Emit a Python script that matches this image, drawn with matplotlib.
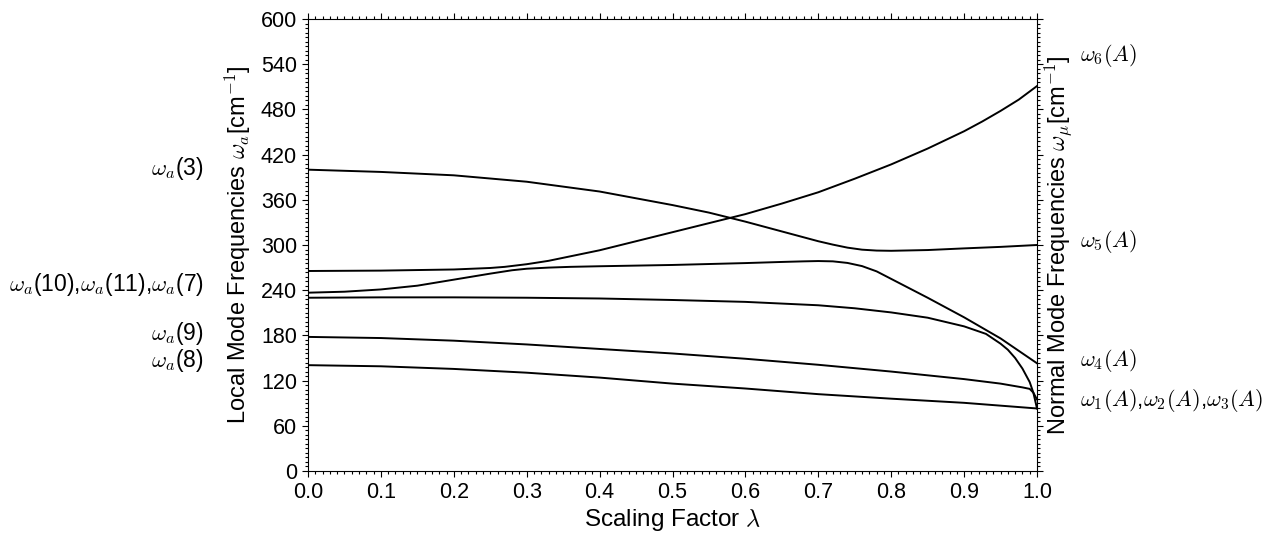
import numpy as np
import matplotlib
matplotlib.use("Agg")
import matplotlib.pyplot as plt
from matplotlib.ticker import MultipleLocator, FormatStrFormatter

plt.rcParams['font.family'] = ['Liberation Sans', 'DejaVu Sans']
plt.rcParams['mathtext.fontset'] = 'cm'
plt.rcParams['font.size'] = 15

# Mode frequencies (cm^-1) versus scaling factor lambda
lam_a = [0.0, 0.1, 0.2, 0.3, 0.4, 0.5, 0.55, 0.6, 0.65, 0.7, 0.72, 0.74, 0.76, 0.78,
         0.8, 0.85, 0.9, 0.95, 1.0]
freq_a = [400, 397, 392.5, 384, 371, 353, 343, 331, 318, 305, 300.5, 296.5, 293.8, 292.6,
          292.3, 293.3, 295.5, 297.5, 300]

lam_b = [0.0, 0.1, 0.2, 0.25, 0.27, 0.3, 0.33, 0.36, 0.4, 0.45, 0.5, 0.55, 0.6, 0.65,
         0.7, 0.75, 0.8, 0.85, 0.9, 0.925, 0.95, 0.975, 1.0]
freq_b = [265.5, 266, 267.5, 269.5, 271, 274.5, 279, 285, 293, 305, 317, 329, 341, 355,
          370, 388, 407, 428, 451, 464, 478, 493, 511]

lam_c = [0.0, 0.05, 0.1, 0.15, 0.2, 0.25, 0.28, 0.3, 0.33, 0.36, 0.4, 0.5, 0.6, 0.65,
         0.68, 0.7, 0.72, 0.74, 0.76, 0.78, 0.8, 0.82, 0.85, 0.9, 0.95, 1.0]
freq_c = [236.7, 238, 241, 246, 254, 262, 266.5, 268.5, 270, 271, 271.8, 273.5, 276, 277.5,
          278.3, 278.7, 278.3, 276.2, 272, 265, 255, 245, 230, 204, 176, 143]

lam_d = [0.0, 0.1, 0.2, 0.3, 0.4, 0.5, 0.6, 0.7, 0.75, 0.8, 0.85, 0.9, 0.93, 0.95, 0.96,
         0.97, 0.98, 0.99, 0.995, 1.0]
freq_d = [230, 230.5, 230.5, 230, 229, 227, 224.5, 220, 216, 210.5, 203.5, 192, 182, 169,
          161, 150, 136, 118, 104, 83]

lam_e = [0.0, 0.1, 0.2, 0.3, 0.4, 0.5, 0.6, 0.7, 0.8, 0.9, 0.95, 0.98, 0.99, 0.995, 1.0]
freq_e = [178, 176.5, 173, 168, 162, 156, 149, 141, 132, 122, 116, 111, 109, 104, 95]

lam_f = [0.0, 0.1, 0.2, 0.3, 0.4, 0.5, 0.6, 0.7, 0.8, 0.9, 1.0]
freq_f = [140.5, 139, 135.5, 130.5, 124, 116, 109.5, 102, 96, 90.5, 83]

curves = [(lam_a, freq_a), (lam_b, freq_b), (lam_c, freq_c),
          (lam_d, freq_d), (lam_e, freq_e), (lam_f, freq_f)]

# Mode annotations: (text, frequency position)
local_labels = [(r'$\omega_a$(3)', 401),
                (r'$\omega_a$(10),$\omega_a$(11),$\omega_a$(7)', 247),
                (r'$\omega_a$(9)', 183),
                (r'$\omega_a$(8)', 147)]
normal_labels = [(r'$\omega_6(A)$', 552),
                 (r'$\omega_5(A)$', 304),
                 (r'$\omega_4(A)$', 147),
                 (r'$\omega_1(A)$,$\omega_2(A)$,$\omega_3(A)$', 94)]

x_ticks = np.round(np.arange(0, 1.01, 0.1), 1)
y_ticks = np.arange(0, 601, 60)

fig = plt.figure(figsize=(12.76, 5.40), dpi=100)
ax = fig.add_axes([308 / 1276, 69 / 540, 729 / 1276, 452 / 540])

for lam, freq in curves:
    ax.plot(lam, freq, color='black', lw=1.4, solid_joinstyle='round')

ax.set_xlim(0, 1)
ax.set_ylim(0, 600)
ax.set_xticks(x_ticks)
ax.set_yticks(y_ticks)
ax.xaxis.set_major_formatter(FormatStrFormatter('%.1f'))
ax.xaxis.set_minor_locator(MultipleLocator(0.01))
ax.yaxis.set_minor_locator(MultipleLocator(6))
ax.tick_params(which='both', direction='out', top=True, right=True,
               labelright=False, labeltop=False, width=0.8, labelsize=15.5)
ax.tick_params(which='major', length=4, pad=4)
ax.tick_params(which='minor', length=2)
for sp in ax.spines.values():
    sp.set_linewidth(0.8)

ax.set_xlabel(r'Scaling Factor $\lambda$', fontsize=17.5, labelpad=3)
ax.set_ylabel(r'Local Mode Frequencies $\omega_a$[cm$^{\mathsf{-1}}$]', fontsize=17)
ax.yaxis.set_label_coords(-0.076, 0.5)
ax.text(1.007, 0.5, r'Normal Mode Frequencies $\omega_\mu$[cm$^{\mathsf{-1}}$]',
        transform=ax.transAxes, rotation=90, ha='left', va='center', fontsize=17)

trans_left = matplotlib.transforms.blended_transform_factory(ax.transAxes, ax.transData)
for txt, yv in local_labels:
    ax.text(-0.1427, yv, txt, transform=trans_left, ha='right', va='center', fontsize=16.5)
for txt, yv in normal_labels:
    ax.text(1.059, yv, txt, transform=trans_left, ha='left', va='center', fontsize=16)

fig.savefig('out.png', dpi=100)
